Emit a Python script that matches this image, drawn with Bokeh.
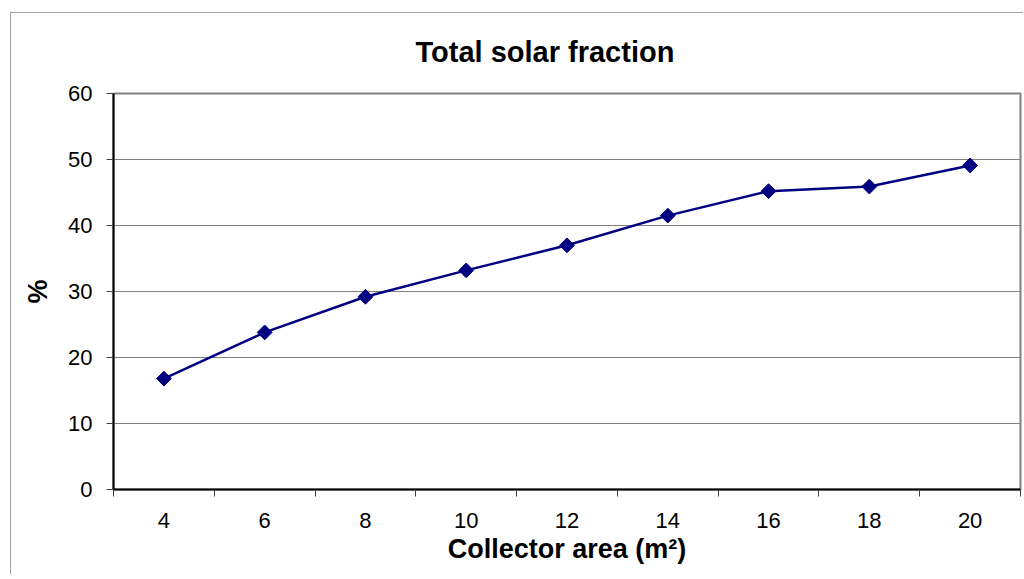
from bokeh.plotting import figure
from bokeh.models import FixedTicker
from bokeh.embed import file_html
from bokeh.resources import INLINE
import math

# Data
collector_area = [4, 6, 8, 10, 12, 14, 16, 18, 20]
solar_fraction = [16.8, 23.8, 29.2, 33.2, 37.0, 41.5, 45.2, 45.9, 49.1]
y_ticks = [0, 10, 20, 30, 40, 50, 60]

FONT = "Liberation Sans"

p = figure(
    frame_width=907, frame_height=396,
    x_range=(collector_area[0] - 1, collector_area[-1] + 1),
    y_range=(y_ticks[0], y_ticks[-1]),
    output_backend="svg", toolbar_location=None,
    min_border_left=103, min_border_top=86, min_border_right=3, min_border_bottom=85,
    title="Total solar fraction",
)
p.border_fill_color = None
p.styles = {
    "margin-left": "10px", "margin-top": "7px",
    "background": ("linear-gradient(#a0a0a0,#a0a0a0) 0px 5px / 1px 100% no-repeat, "
                   "linear-gradient(#a0a0a0,#a0a0a0) 0px 5px / 100% 1px no-repeat, #ffffff"),
}

p.title.text_font = FONT
p.title.text_font_size = "29px"
p.title.text_font_style = "bold"
p.title.align = "left"
p.title.offset = 302
p.title.standoff = 52
p.title.text_color = "black"

p.outline_line_color = "#808080"
p.outline_line_width = 2

p.xgrid.visible = False
p.ygrid.grid_line_color = "#808080"
p.ygrid.grid_line_width = 1
p.ygrid.ticker = FixedTicker(ticks=y_ticks)

# y axis
p.yaxis.ticker = FixedTicker(ticks=y_ticks)
p.yaxis.axis_line_color = "black"
p.yaxis.axis_line_width = 2
p.yaxis.major_tick_line_color = "#404040"
p.yaxis.major_tick_in = 0
p.yaxis.major_tick_out = 7
p.yaxis.minor_tick_line_color = None
p.yaxis.major_label_text_font = FONT
p.yaxis.major_label_text_font_size = "22px"
p.yaxis.major_label_text_color = "black"
p.yaxis.major_label_standoff = 14
p.yaxis.axis_label = "%"
p.yaxis.axis_label_text_font = FONT
p.yaxis.axis_label_text_font_size = "27px"
p.yaxis.axis_label_text_font_style = "bold"
p.yaxis.axis_label_text_color = "black"
p.yaxis.axis_label_standoff = 12

# x axis: labels at category centres, ticks at boundaries
bounds = [x - 1 for x in collector_area] + [collector_area[-1] + 1]
p.xaxis.ticker = FixedTicker(ticks=collector_area, minor_ticks=bounds)
p.xaxis.axis_line_color = "black"
p.xaxis.axis_line_width = 2
p.xaxis.major_tick_line_color = None
p.xaxis.minor_tick_line_color = "#404040"
p.xaxis.minor_tick_in = 0
p.xaxis.minor_tick_out = 7
p.xaxis.major_tick_out = 7
p.xaxis.major_label_text_font = FONT
p.xaxis.major_label_text_font_size = "22px"
p.xaxis.major_label_text_color = "black"
p.xaxis.major_label_standoff = 16
p.xaxis.axis_label = "Collector area (m²)"
p.xaxis.axis_label_text_font = FONT
p.xaxis.axis_label_text_font_size = "27px"
p.xaxis.axis_label_text_font_style = "bold"
p.xaxis.axis_label_text_color = "black"
p.xaxis.axis_label_standoff = 3

p.line(collector_area, solar_fraction, line_color="#000080", line_width=2.5)
p.scatter(collector_area, solar_fraction, marker="square", angle=math.pi / 4, size=10.5,
          fill_color="#000080", line_color="#000080")

open("out.html", "w").write(file_html(p, INLINE))
